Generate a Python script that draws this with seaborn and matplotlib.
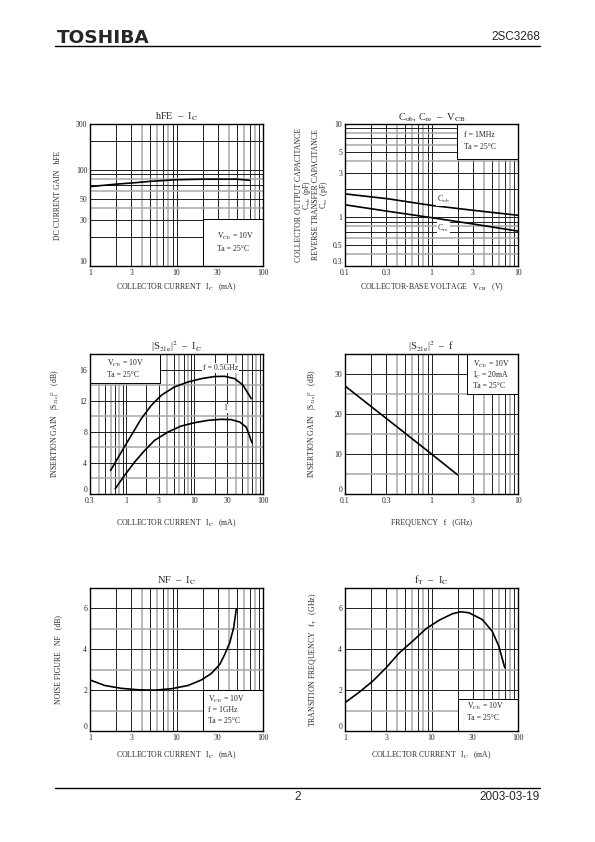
import numpy as np
import pandas as pd
import matplotlib
matplotlib.use("Agg")
import matplotlib.pyplot as plt
from matplotlib.patches import Rectangle
import seaborn as sns

# --- data ---
# hFE - IC
hfe_ic = [1, 2, 3, 5, 10, 20, 30, 50, 70]
hfe_val = [67, 71, 73, 76, 79, 80, 80, 80, 78]

# Cob, Cre - VCB
vcb = [0.1, 0.31, 1, 3.2, 10]
cob = [1.78, 1.58, 1.34, 1.18, 1.05]
cre = [1.36, 1.16, 0.99, 0.84, 0.71]

# |S21e|^2 - IC
s21_ic_05 = [0.6, 0.86, 1.2, 1.68, 2.35, 3.3, 5.1, 8.05, 12.6, 19.7, 27.5, 38.6, 51, 67.5]
s21_g_05 = [3.04, 5.4, 7.54, 9.69, 11.4, 12.7, 13.76, 14.4, 14.83, 15.1, 15.13, 14.83, 14.0, 12.26]
s21_ic_1 = [0.7, 0.96, 1.34, 1.88, 2.63, 4.11, 6.43, 10.1, 15.8, 24.6, 34.4, 45.6, 57, 69]
s21_g_1 = [0.69, 2.4, 4.1, 5.6, 6.9, 7.97, 8.74, 9.17, 9.47, 9.6, 9.56, 9.26, 8.6, 6.6]

# |S21e|^2 - f
freq = [0.1, 0.3, 1, 2]
s21_f = [27, 18.9, 10, 4.8]

# NF - IC
nf_ic = [1, 1.48, 2.3, 3.59, 5.6, 8.7, 13.6, 19.4, 25.3, 31.6, 36.1, 41.2, 45.8, 49.2]
nf_val = [2.5, 2.23, 2.09, 2.02, 2.0, 2.07, 2.23, 2.5, 2.82, 3.26, 3.75, 4.32, 5.06, 5.99]

# fT - IC
ft_ic = [1, 1.47, 2.1, 2.99, 4.25, 6.05, 8.6, 12.2, 17.4, 21.7, 27.1, 38.6, 50.2, 60, 70.3]
ft_val = [1.39, 1.91, 2.45, 3.1, 3.83, 4.4, 5.0, 5.42, 5.74, 5.84, 5.79, 5.46, 4.89, 4.16, 3.1]

sns.set_style("white")
plt.rcParams['font.family'] = ['Liberation Serif', 'DejaVu Serif']
plt.rcParams['mathtext.fontset'] = 'stix'

fig = plt.figure(figsize=(5.95, 8.42), dpi=100)

DARK = "#1e1e1e"
GRAY = "#a8a8a8"
FS = 5.6


def log_lines(lo, hi):
    out = []
    d = 10.0 ** np.floor(np.log10(lo))
    while d < hi * 1.0001:
        for m in range(1, 10):
            v = m * d
            if lo * 1.0001 < v < hi * 0.9999:
                out.append((v, m in (1, 2, 3, 5, 7, 9)))
        d *= 10
    return out


def setup(ax, xlim, ylim, xticks, yticks, xlog=True, ylog=False, ystep=None):
    ax.set_xscale("log" if xlog else "linear")
    ax.set_yscale("log" if ylog else "linear")
    ax.set_xlim(*xlim)
    ax.set_ylim(*ylim)
    for v, dark in log_lines(*xlim):
        ax.axvline(v, color=DARK if dark else GRAY, lw=0.7 if dark else 1.1, zorder=1)
    if ylog:
        for v, dark in log_lines(*ylim):
            ax.axhline(v, color=DARK if dark else GRAY, lw=0.7 if dark else 1.1, zorder=1)
    else:
        k = 1
        v = ystep
        while v < ylim[1] - 1e-9:
            ax.axhline(v, color=DARK if k % 2 == 0 else GRAY, lw=0.7 if k % 2 == 0 else 1.1, zorder=1)
            k += 1
            v += ystep
    ax.set_xticks(xticks)
    ax.set_xticklabels([f"{t:g}" for t in xticks])
    ax.set_yticks(yticks)
    ax.set_yticklabels([f"{t:g}" for t in yticks])
    ax.minorticks_off()
    ax.tick_params(length=0, pad=2, labelsize=FS)
    # lowest y label sits just above the corner, clear of the first x label
    ax.get_yticklabels()[0].set_va("bottom")
    for s in ax.spines.values():
        s.set_color("black")
        s.set_linewidth(1.0)
        s.set_zorder(5)


def box(ax, x0, y0, x1, y1, lines, tx, tys):
    ax.add_patch(Rectangle((x0, y0), x1 - x0, y1 - y0, transform=ax.transAxes,
                           facecolor="white", edgecolor="black", lw=0.7, zorder=3))
    for t, ty in zip(lines, tys):
        ax.text(tx, ty, t, transform=ax.transAxes, fontsize=FS, va="center", ha="left", zorder=4)


def labels(ax, title, xlabel, ylabel, xl_y, yl_x):
    ax.set_title(title, fontsize=7.5, pad=3)
    ax.set_xlabel(xlabel, fontsize=FS)
    ax.set_ylabel(ylabel, fontsize=FS)
    ax.xaxis.set_label_coords(0.5, xl_y)
    ax.yaxis.set_label_coords(yl_x, 0.5)


def tag(ax, x, y, s):
    ax.text(x, y, s, fontsize=FS, ha="center", va="center", zorder=7,
            bbox=dict(facecolor="white", edgecolor="none", pad=0.6))


L, W = 90 / 595, 173 / 595
R = 345 / 595
rows = [(0.6841, 0.1686), (0.4133, 0.1663), (0.1318, 0.1698)]

ic_label = r"COLLECTOR CURRENT   I$_\mathrm{C}$   (mA)"
vce = r"V$_\mathrm{CE}$ = 10V"
ta = "Ta = 25°C"

# 1. hFE - IC
ax1 = fig.add_axes([L, rows[0][0], W, rows[0][1]])
setup(ax1, (1, 100), (10, 300), [1, 3, 10, 30, 100], [10, 30, 50, 100, 300], ylog=True)
box(ax1, 0.653, 0.0, 1.0, 0.33, [vce, ta], 0.734, [0.205, 0.122])
sns.lineplot(x=hfe_ic, y=hfe_val, ax=ax1, color="black", lw=1.2, zorder=6)
labels(ax1, r"hFE  –  I$_\mathrm{C}$", ic_label, "DC CURRENT GAIN   hFE", -0.11, -0.16)

# 2. Cob, Cre - VCB
ax2 = fig.add_axes([R, rows[0][0], W, rows[0][1]])
setup(ax2, (0.1, 10), (0.3, 10), [0.1, 0.3, 1, 3, 10], [0.3, 0.5, 1, 3, 5, 10], ylog=True)
box(ax2, 0.649, 0.752, 1.0, 1.0, ["f = 1MHz", ta], 0.686, [0.923, 0.836])
sns.lineplot(x=vcb, y=cob, ax=ax2, color="black", lw=1.2, zorder=6)
sns.lineplot(x=vcb, y=cre, ax=ax2, color="black", lw=1.2, zorder=6)
tag(ax2, 1.36, 1.56, r"C$_\mathrm{ob}$")
tag(ax2, 1.36, 0.755, r"C$_\mathrm{re}$")
labels(ax2, r"C$_\mathrm{ob}$, C$_\mathrm{re}$  –  V$_\mathrm{CB}$",
       r"COLLECTOR-BASE VOLTAGE   V$_\mathrm{CB}$   (V)",
       "COLLECTOR OUTPUT CAPACITANCE\n" + r"C$_\mathrm{ob}$  (pF)" + "\n"
       "REVERSE TRANSFER CAPACITANCE\n" + r"C$_\mathrm{re}$  (pF)", -0.11, -0.085)
ax2.yaxis.label.set_linespacing(0.78)

# 3. |S21e|^2 - IC
ax3 = fig.add_axes([L, rows[1][0], W, rows[1][1]])
setup(ax3, (0.3, 100), (0, 18), [0.3, 1, 3, 10, 30, 100], [0, 4, 8, 12, 16], ystep=2)
box(ax3, 0.0, 0.79, 0.404, 1.0, [vce, ta], 0.096, [0.933, 0.85])
sns.lineplot(x=s21_ic_05, y=s21_g_05, ax=ax3, color="black", lw=1.2, zorder=6)
sns.lineplot(x=s21_ic_1, y=s21_g_1, ax=ax3, color="black", lw=1.2, zorder=6)
tag(ax3, 24, 16.2, "f = 0.5GHz")
tag(ax3, 28, 11.0, "1")
labels(ax3, r"|S$_\mathrm{21e}$|$^2$  –  I$_\mathrm{C}$", ic_label,
       r"INSERTION GAIN   |S$_\mathrm{21e}$|$^2$   (dB)", -0.17, -0.16)

# 4. |S21e|^2 - f
ax4 = fig.add_axes([R, rows[1][0], W, rows[1][1]])
setup(ax4, (0.1, 10), (0, 35), [0.1, 0.3, 1, 3, 10], [0, 10, 20, 30], ystep=5)
box(ax4, 0.703, 0.714, 1.0, 1.0, [vce, r"I$_\mathrm{C}$ = 20mA", ta], 0.741, [0.924, 0.85, 0.774])
sns.lineplot(x=freq, y=s21_f, ax=ax4, color="black", lw=1.2, zorder=6)
labels(ax4, r"|S$_\mathrm{21e}$|$^2$  –  f", "FREQUENCY   f   (GHz)",
       r"INSERTION GAIN   |S$_\mathrm{21e}$|$^2$   (dB)", -0.17, -0.15)

# 5. NF - IC
ax5 = fig.add_axes([L, rows[2][0], W, rows[2][1]])
setup(ax5, (1, 100), (0, 7), [1, 3, 10, 30, 100], [0, 2, 4, 6], ystep=1)
box(ax5, 0.653, 0.0, 1.0, 0.287, [vce, "f = 1GHz", ta], 0.682, [0.222, 0.145, 0.07])
sns.lineplot(x=nf_ic, y=nf_val, ax=ax5, color="black", lw=1.2, zorder=6)
labels(ax5, r"NF  –  I$_\mathrm{C}$", ic_label, "NOISE FIGURE   NF   (dB)", -0.13, -0.16)

# 6. fT - IC
ax6 = fig.add_axes([R, rows[2][0], W, rows[2][1]])
setup(ax6, (1, 100), (0, 7), [1, 3, 10, 30, 100], [0, 2, 4, 6], ystep=1)
box(ax6, 0.655, 0.0, 1.0, 0.227, [vce, ta], 0.703, [0.173, 0.091])
sns.lineplot(x=ft_ic, y=ft_val, ax=ax6, color="black", lw=1.2, zorder=6)
labels(ax6, r"f$_\mathrm{T}$  –  I$_\mathrm{C}$", ic_label,
       r"TRANSITION FREQUENCY   f$_\mathrm{T}$   (GHz)", -0.13, -0.15)

# header / footer
fig.text(57 / 595, 1 - 38 / 842, "TOSHIBA", fontsize=13.3, fontweight="black",
         family="DejaVu Sans", va="center", ha="left")
fig.text(540 / 595, 1 - 37 / 842, "2SC3268", fontsize=8.5, family="Liberation Sans",
         va="center", ha="right")
fig.add_artist(plt.Line2D([55 / 595, 540 / 595], [1 - 46 / 842] * 2, color="black", lw=1.0))
fig.add_artist(plt.Line2D([55 / 595, 540 / 595], [1 - 788 / 842] * 2, color="black", lw=1.0))
fig.text(298 / 595, 1 - 797 / 842, "2", fontsize=8.5, family="Liberation Sans",
         va="center", ha="center")
fig.text(540 / 595, 1 - 797 / 842, "2003-03-19", fontsize=8.5, family="Liberation Sans",
         va="center", ha="right")

fig.savefig("out.png", dpi=100, facecolor="white")
